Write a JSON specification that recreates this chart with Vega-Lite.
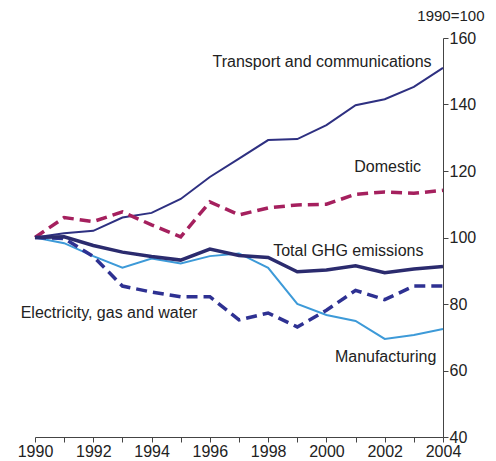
{
  "$schema": "https://vega.github.io/schema/vega-lite/v6.json",
  "width": 408,
  "height": 399,
  "autosize": {"type": "none"},
  "padding": {"left": 35, "top": 38, "right": 53, "bottom": 24},
  "background": "white",
  "config": {"view": {"stroke": null}, "font": "Liberation Sans"},
  "datasets": {
    "series": [
      {"year": 1990, "series": "Transport", "value": 100},
      {"year": 1991, "series": "Transport", "value": 101.3},
      {"year": 1992, "series": "Transport", "value": 102},
      {"year": 1993, "series": "Transport", "value": 106},
      {"year": 1994, "series": "Transport", "value": 107.4},
      {"year": 1995, "series": "Transport", "value": 111.6},
      {"year": 1996, "series": "Transport", "value": 118.2},
      {"year": 1997, "series": "Transport", "value": 123.7},
      {"year": 1998, "series": "Transport", "value": 129.3},
      {"year": 1999, "series": "Transport", "value": 129.6},
      {"year": 2000, "series": "Transport", "value": 133.8},
      {"year": 2001, "series": "Transport", "value": 139.8},
      {"year": 2002, "series": "Transport", "value": 141.6},
      {"year": 2003, "series": "Transport", "value": 145.3},
      {"year": 2004, "series": "Transport", "value": 151},
      {"year": 1990, "series": "Domestic", "value": 100},
      {"year": 1991, "series": "Domestic", "value": 106},
      {"year": 1992, "series": "Domestic", "value": 104.8},
      {"year": 1993, "series": "Domestic", "value": 107.7},
      {"year": 1994, "series": "Domestic", "value": 103.8},
      {"year": 1995, "series": "Domestic", "value": 100.2},
      {"year": 1996, "series": "Domestic", "value": 110.7},
      {"year": 1997, "series": "Domestic", "value": 106.8},
      {"year": 1998, "series": "Domestic", "value": 108.9},
      {"year": 1999, "series": "Domestic", "value": 109.8},
      {"year": 2000, "series": "Domestic", "value": 110},
      {"year": 2001, "series": "Domestic", "value": 113},
      {"year": 2002, "series": "Domestic", "value": 113.7},
      {"year": 2003, "series": "Domestic", "value": 113.3},
      {"year": 2004, "series": "Domestic", "value": 114.2},
      {"year": 1990, "series": "Total", "value": 100},
      {"year": 1991, "series": "Total", "value": 100.2},
      {"year": 1992, "series": "Total", "value": 97.6},
      {"year": 1993, "series": "Total", "value": 95.6},
      {"year": 1994, "series": "Total", "value": 94.3},
      {"year": 1995, "series": "Total", "value": 93.2},
      {"year": 1996, "series": "Total", "value": 96.5},
      {"year": 1997, "series": "Total", "value": 94.6},
      {"year": 1998, "series": "Total", "value": 94},
      {"year": 1999, "series": "Total", "value": 89.7},
      {"year": 2000, "series": "Total", "value": 90.2},
      {"year": 2001, "series": "Total", "value": 91.5},
      {"year": 2002, "series": "Total", "value": 89.4},
      {"year": 2003, "series": "Total", "value": 90.5},
      {"year": 2004, "series": "Total", "value": 91.3},
      {"year": 1990, "series": "Manufacturing", "value": 100},
      {"year": 1991, "series": "Manufacturing", "value": 98.3},
      {"year": 1992, "series": "Manufacturing", "value": 94.4},
      {"year": 1993, "series": "Manufacturing", "value": 90.9},
      {"year": 1994, "series": "Manufacturing", "value": 93.7},
      {"year": 1995, "series": "Manufacturing", "value": 92.2},
      {"year": 1996, "series": "Manufacturing", "value": 94.4},
      {"year": 1997, "series": "Manufacturing", "value": 95.2},
      {"year": 1998, "series": "Manufacturing", "value": 90.9},
      {"year": 1999, "series": "Manufacturing", "value": 80},
      {"year": 2000, "series": "Manufacturing", "value": 76.7},
      {"year": 2001, "series": "Manufacturing", "value": 74.9},
      {"year": 2002, "series": "Manufacturing", "value": 69.5},
      {"year": 2003, "series": "Manufacturing", "value": 70.7},
      {"year": 2004, "series": "Manufacturing", "value": 72.5},
      {"year": 1990, "series": "Electricity", "value": 100},
      {"year": 1991, "series": "Electricity", "value": 99.7},
      {"year": 1992, "series": "Electricity", "value": 94.3},
      {"year": 1993, "series": "Electricity", "value": 85.4},
      {"year": 1994, "series": "Electricity", "value": 83.6},
      {"year": 1995, "series": "Electricity", "value": 82.2},
      {"year": 1996, "series": "Electricity", "value": 82.2},
      {"year": 1997, "series": "Electricity", "value": 75.2},
      {"year": 1998, "series": "Electricity", "value": 77.3},
      {"year": 1999, "series": "Electricity", "value": 73.1},
      {"year": 2000, "series": "Electricity", "value": 78.1},
      {"year": 2001, "series": "Electricity", "value": 84.1},
      {"year": 2002, "series": "Electricity", "value": 81.3},
      {"year": 2003, "series": "Electricity", "value": 85.4},
      {"year": 2004, "series": "Electricity", "value": 85.4}
    ],
    "labels": [
      {"label": "Transport and communications", "year": 1999.85, "value": 152.9},
      {"label": "Domestic", "year": 2002.1, "value": 121.3},
      {"label": "Total GHG emissions", "year": 2000.75, "value": 96.0},
      {"label": "Manufacturing", "year": 2002.03, "value": 64.1},
      {"label": "Electricity, gas and water", "year": 1992.54, "value": 77.2}
    ]
  },
  "encoding": {
    "x": {
      "field": "year", "type": "quantitative",
      "scale": {"domain": [1990, 2004], "nice": false, "zero": false},
      "axis": {
        "values": [1990,1991,1992,1993,1994,1995,1996,1997,1998,1999,2000,2001,2002,2003,2004],
        "labelExpr": "datum.value % 2 == 0 ? datum.label : ''",
        "format": "d",
        "title": null, "grid": false,
        "domainColor": "#444444", "tickColor": "#444444", "tickSize": 5,
        "labelFontSize": 16, "labelColor": "#222222", "labelPadding": 1,
        "labelFlush": false, "labelOverlap": false
      }
    },
    "y": {
      "field": "value", "type": "quantitative",
      "scale": {"domain": [40, 160], "nice": false, "zero": false},
      "axis": {
        "orient": "right",
        "values": [40, 60, 80, 100, 120, 140, 160],
        "grid": false,
        "title": "1990=100", "titleAngle": 0, "titleAlign": "right",
        "titleBaseline": "middle", "titleX": 41, "titleY": -23,
        "titleFontSize": 15, "titleFontWeight": "normal", "titleColor": "#222222",
        "domainColor": "#444444", "tickColor": "#444444", "tickSize": 5,
        "labelFontSize": 16, "labelColor": "#222222", "labelPadding": 1,
        "labelFlush": false, "labelOverlap": false
      }
    }
  },
  "layer": [
    {
      "data": {"name": "series"},
      "transform": [{"filter": "datum.series == 'Transport' || datum.series == 'Manufacturing'"}],
      "mark": {"type": "line", "strokeWidth": 2, "strokeJoin": "miter"},
      "encoding": {
        "detail": {"field": "series"},
        "color": {
          "field": "series", "type": "nominal", "legend": null,
          "scale": {
            "domain": ["Transport", "Domestic", "Total", "Manufacturing", "Electricity"],
            "range": ["#2e3081", "#a5205e", "#2b2b6e", "#3d9ad8", "#2e3192"]
          }
        }
      }
    },
    {
      "data": {"name": "series"},
      "transform": [{"filter": "datum.series == 'Domestic' || datum.series == 'Electricity'"}],
      "mark": {"type": "line", "strokeWidth": 3.5, "strokeDash": [11, 6], "strokeJoin": "miter"},
      "encoding": {
        "detail": {"field": "series"},
        "color": {"field": "series", "type": "nominal", "legend": null}
      }
    },
    {
      "data": {"name": "series"},
      "transform": [{"filter": "datum.series == 'Total'"}],
      "mark": {"type": "line", "strokeWidth": 3.5, "strokeJoin": "miter"},
      "encoding": {
        "color": {"field": "series", "type": "nominal", "legend": null}
      }
    },
    {
      "data": {"name": "labels"},
      "mark": {"type": "text", "fontSize": 16, "color": "#222222", "baseline": "middle", "align": "center"},
      "encoding": {
        "text": {"field": "label"}
      }
    }
  ]
}
